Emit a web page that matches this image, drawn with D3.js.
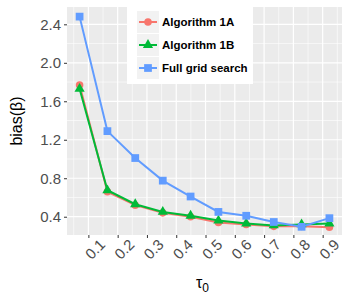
<!DOCTYPE html>
<html>
<head>
<meta charset="utf-8">
<script src="https://cdn.jsdelivr.net/npm/d3@7"></script>
<style>
  body { margin: 0; background: #fff; }
  text { font-family: "Liberation Sans", Arial, sans-serif; }
</style>
</head>
<body>
<svg id="chart" width="350" height="300"></svg>
<script>
'use strict';

// tau values of the ten runs
var tau = [0.07, 0.165, 0.26, 0.354, 0.449, 0.544, 0.639, 0.733, 0.828, 0.923];
var alg1A = [1.77, 0.66, 0.52, 0.44, 0.40, 0.34, 0.32, 0.30, 0.30, 0.29];
var alg1B = [1.73, 0.675, 0.53, 0.45, 0.41, 0.36, 0.33, 0.31, 0.32, 0.33];
var fullGrid = [2.48, 1.29, 1.01, 0.775, 0.61, 0.45, 0.41, 0.345, 0.295, 0.385];
var seriesNames = ['Algorithm 1A', 'Algorithm 1B', 'Full grid search'];
var xTicks = [0.1, 0.2, 0.3, 0.4, 0.5, 0.6, 0.7, 0.8, 0.9];
var yTicks = [0.4, 0.8, 1.2, 1.6, 2.0, 2.4];

var colors = ['#F8766D', '#00BA38', '#619CFF'];
var shapes = [d3.symbolCircle, d3.symbolTriangle, d3.symbolSquare];
var sizes = [45, 45, 60];

var svg = d3.select('#chart');
var panel = { left: 67, right: 342, top: 7, bottom: 235 };

var x = d3.scaleLinear().domain([0.027, 0.966]).range([panel.left, panel.right]);
var y = d3.scaleLinear().domain([0.21, 2.58]).range([panel.bottom, panel.top]);

// panel background
svg.append('rect')
  .attr('x', panel.left).attr('y', panel.top)
  .attr('width', panel.right - panel.left)
  .attr('height', panel.bottom - panel.top)
  .attr('fill', '#EBEBEB');

// minor grid
var xMinor = xTicks.map((t) => t - 0.05).concat([0.95]);
var yMinor = [0.2, 0.6, 1.0, 1.4, 1.8, 2.2].filter((v) => y(v) <= panel.bottom);

var grid = svg.append('g');
grid.selectAll('.xminor').data(xMinor).enter().append('line')
  .attr('x1', (d) => x(d)).attr('x2', (d) => x(d))
  .attr('y1', panel.top).attr('y2', panel.bottom)
  .attr('stroke', '#fff').attr('stroke-width', 0.6);
grid.selectAll('.yminor').data(yMinor).enter().append('line')
  .attr('y1', (d) => y(d)).attr('y2', (d) => y(d))
  .attr('x1', panel.left).attr('x2', panel.right)
  .attr('stroke', '#fff').attr('stroke-width', 0.6);
grid.selectAll('.xmajor').data(xTicks).enter().append('line')
  .attr('x1', (d) => x(d)).attr('x2', (d) => x(d))
  .attr('y1', panel.top).attr('y2', panel.bottom)
  .attr('stroke', '#fff').attr('stroke-width', 1.2);
grid.selectAll('.ymajor').data(yTicks).enter().append('line')
  .attr('y1', (d) => y(d)).attr('y2', (d) => y(d))
  .attr('x1', panel.left).attr('x2', panel.right)
  .attr('stroke', '#fff').attr('stroke-width', 1.2);

// axes
var yAxis = svg.append('g')
  .attr('transform', 'translate(' + panel.left + ',0)')
  .call(d3.axisLeft(y).tickValues(yTicks).tickFormat(d3.format('.1f')).tickSize(3).tickPadding(3));
yAxis.select('.domain').remove();
yAxis.selectAll('line').attr('stroke', '#333');
yAxis.selectAll('text')
  .attr('fill', '#4D4D4D')
  .style('font-size', '15px');

var xAxis = svg.append('g')
  .attr('transform', 'translate(0,' + panel.bottom + ')')
  .call(d3.axisBottom(x).tickValues(xTicks).tickFormat(d3.format('.1f')).tickSize(3));
xAxis.select('.domain').remove();
xAxis.selectAll('line').attr('stroke', '#333');
xAxis.selectAll('text')
  .attr('fill', '#4D4D4D')
  .style('font-size', '15px')
  .attr('text-anchor', 'middle')
  .attr('dy', null)
  .attr('y', null)
  .attr('dominant-baseline', 'central')
  .attr('transform', 'translate(6,14) rotate(-45)');

// axis titles
svg.append('text')
  .attr('transform', 'translate(22,' + ((panel.top + panel.bottom) / 2) + ') rotate(-90)')
  .attr('text-anchor', 'middle')
  .style('font-size', '16px')
  .attr('fill', '#000')
  .text('bias(β)');

var xt = svg.append('text')
  .attr('x', (panel.left + panel.right) / 2 - 2)
  .attr('y', 288)
  .attr('text-anchor', 'middle')
  .style('font-size', '16px')
  .attr('fill', '#000');
xt.append('tspan').text('τ');
xt.append('tspan').attr('dy', 4).style('font-size', '12px').text('0');

// series
var series = [alg1A, alg1B, fullGrid];
var line = d3.line().x((d, i) => x(tau[i])).y((d) => y(d));

[0, 1, 2].forEach((k) => {
  var g = svg.append('g');
  g.append('path')
    .datum(series[k])
    .attr('d', line)
    .attr('fill', 'none')
    .attr('stroke', colors[k])
    .attr('stroke-width', 2);
  g.selectAll('path.pt').data(series[k]).enter().append('path')
    .attr('class', 'pt')
    .attr('transform', (d, i) => 'translate(' + x(tau[i]) + ',' + y(d) + ')')
    .attr('d', d3.symbol().type(shapes[k]).size(sizes[k]))
    .attr('fill', colors[k]);
});

// legend
var legend = svg.append('g').attr('transform', 'translate(127,7)');
legend.append('rect')
  .attr('width', 126).attr('height', 77)
  .attr('fill', '#fff');

var rows = legend.selectAll('g.row').data(seriesNames).enter().append('g')
  .attr('transform', (d, i) => 'translate(10,' + (4 + i * 23) + ')');
rows.append('rect')
  .attr('width', 22).attr('height', 22)
  .attr('fill', '#F2F2F2');
rows.append('line')
  .attr('x1', 2).attr('x2', 20).attr('y1', 11).attr('y2', 11)
  .attr('stroke', (d, i) => colors[i]).attr('stroke-width', 2);
rows.append('path')
  .attr('transform', 'translate(11,11)')
  .attr('d', (d, i) => d3.symbol().type(shapes[i]).size(sizes[i])())
  .attr('fill', (d, i) => colors[i]);
rows.append('text')
  .attr('x', 25).attr('y', 11)
  .attr('dominant-baseline', 'central')
  .style('font-size', '11.5px')
  .style('font-weight', 'bold')
  .attr('fill', '#000')
  .text((d) => d);
</script>
</body>
</html>
